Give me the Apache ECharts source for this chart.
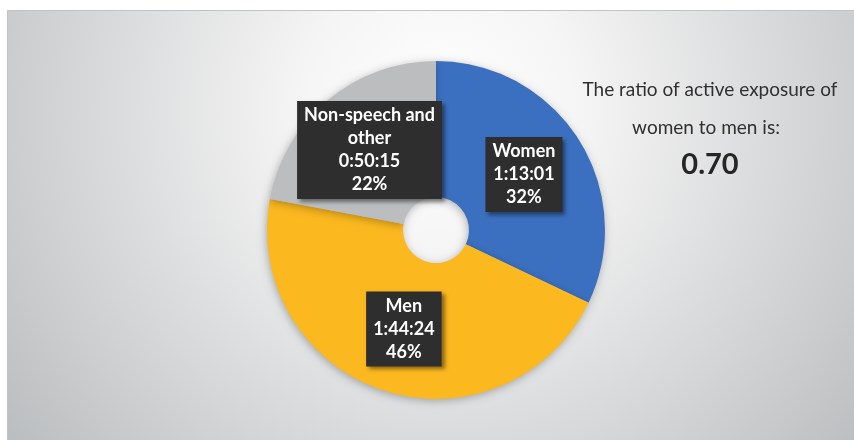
<!DOCTYPE html>
<html>
<head>
<meta charset="utf-8">
<script src="https://cdn.jsdelivr.net/npm/echarts@6/dist/echarts.min.js"></script>
<style>
  html, body { margin: 0; padding: 0; background: #ffffff; }
  #chart { width: 854px; height: 440px; }
</style>
</head>
<body>
<div id="chart"></div>
<script>
// Active exposure by speaker group (h:mm:ss and seconds)
const categories = ['Women', 'Men', 'Non-speech and\nother'];
const durations = ['1:13:01', '1:44:24', '0:50:15'];
const seconds = [4381, 6264, 3015];
const sliceColors = ['#3b70c0', '#fcb81f', '#bcbdbf'];

const ratioLines = ['The ratio of active exposure of', 'women to men is:'];
const ratioValue = (seconds[0] / seconds[1]).toFixed(2);

const chart = echarts.init(document.getElementById('chart'), null, { renderer: 'canvas' });

const font = 'Lato, "Open Sans", sans-serif';

function centeredText(text, x, y, fontSpec, color) {
  return {
    type: 'text',
    x: x, y: y,
    style: {
      text: text, x: 0, y: 0,
      align: 'center', verticalAlign: 'middle',
      fill: color, font: fontSpec
    }
  };
}

chart.setOption({
  animation: false,
  graphic: [
    {
      type: 'rect',
      z: -10,
      shape: { x: 7.5, y: 10.5, width: 850, height: 433 },
      style: {
        fill: new echarts.graphic.RadialGradient(440, 110, 560, [
          { offset: 0, color: '#ffffff' },
          { offset: 0.25, color: '#f5f5f5' },
          { offset: 1, color: '#b8bbbd' }
        ], true),
        stroke: '#c3c3c3',
        lineWidth: 1
      }
    },
    centeredText(ratioLines[0], 710, 90, '19px ' + font, '#303030'),
    centeredText(ratioLines[1], 706, 128, '19px ' + font, '#303030'),
    centeredText(ratioValue, 710, 165, 'bold 29px ' + font, '#262626')
  ],
  series: [{
    type: 'pie',
    center: [436, 230],
    radius: [33, 169],
    startAngle: 90,
    clockwise: true,
    avoidLabelOverlap: false,
    itemStyle: {
      shadowBlur: 8,
      shadowColor: 'rgba(0,0,0,0.28)',
      shadowOffsetX: -1,
      shadowOffsetY: 2
    },
    label: {
      show: true,
      position: 'inside',
      color: '#ffffff',
      fontFamily: font,
      fontWeight: 'bold',
      fontSize: 18,
      lineHeight: 23,
      align: 'center',
      backgroundColor: '#2e2e2e',
      padding: [4, 7, 2, 7],
      shadowColor: 'rgba(0,0,0,0.45)',
      shadowBlur: 4,
      shadowOffsetX: 3,
      shadowOffsetY: 3,
      formatter: p => p.name + '\n' + durations[p.dataIndex] + '\n' + Math.round(p.percent) + '%'
    },
    labelLine: { show: false },
    emphasis: { disabled: true },
    data: categories.map((name, i) => ({
      name: name,
      value: seconds[i],
      itemStyle: { color: sliceColors[i] }
    }))
  }]
});
</script>
</body>
</html>
